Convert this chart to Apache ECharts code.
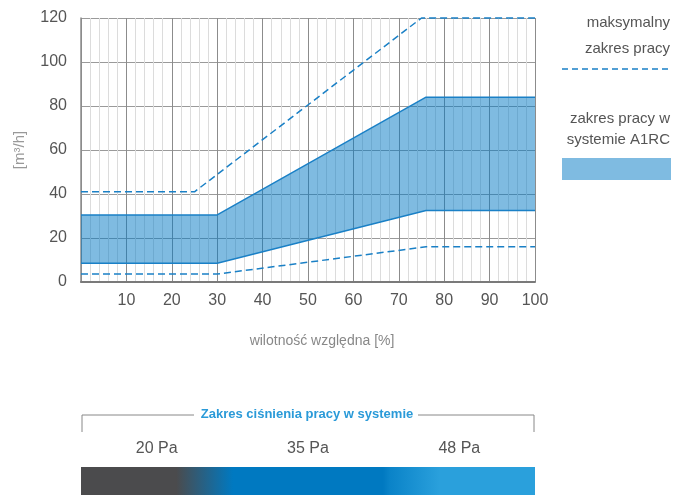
<!DOCTYPE html>
<html>
<head>
<meta charset="utf-8">
<script src="https://cdn.jsdelivr.net/npm/echarts@6/dist/echarts.min.js"></script>
<style>
  html, body { margin: 0; padding: 0; background: #fff; }
  #chart { width: 674px; height: 495px; }
</style>
</head>
<body>
<div id="chart"></div>
<script>
// ── data ─────────────────────────────────────────────────
const bandX     = [0, 30, 76, 100]
const bandLow   = [8.5, 8.5, 32.5, 32.5]
const bandHigh  = [30.5, 30.5, 84, 84]

const maxUpX    = [0, 25, 75, 100]
const maxUp     = [41, 41, 120, 120]
const maxLowX   = [0, 30, 76, 100]
const maxLow    = [3.6, 3.6, 16, 16]

const pressureLabels = ['20 Pa', '35 Pa', '48 Pa']

const legendMax  = ['maksymalny', 'zakres pracy']
const legendBand = ['zakres pracy w', 'systemie A1RC']

// ── style ────────────────────────────────────────────────
const FONT      = '"Liberation Sans", Arial, sans-serif'
const BLUE_LINE = '#1a80c6'
const BAND_FILL = 'rgba(0,120,195,0.5)'
const TEXT      = '#555'

const G = { left: 81, right: 535, top: 18, bottom: 282 }

const pts = (xs, ys) => xs.map((x, i) => [x, ys[i]])

const chart = echarts.init(document.getElementById('chart'))

// band polygon: lower edge left→right, upper edge right→left
function renderBand(params, api) {
  const ring = [
    ...bandX.map((x, i) => api.coord([x, bandLow[i]])),
    ...bandX.map((x, i) => api.coord([x, bandHigh[i]])).reverse(),
  ]
  return { type: 'polygon', shape: { points: ring }, style: { fill: BAND_FILL }, silent: true }
}

function legendGraphics() {
  const els = []
  legendMax.forEach((t, i) => els.push({
    type: 'text', x: 670, y: 23 + i * 26,
    style: { text: t, align: 'right', verticalAlign: 'middle', fill: TEXT, font: '15px ' + FONT },
  }))
  els.push({
    type: 'line', shape: { x1: 562, y1: 69, x2: 671, y2: 69 },
    style: { stroke: BLUE_LINE, lineWidth: 1.5, lineDash: [6, 4] },
  })
  legendBand.forEach((t, i) => els.push({
    type: 'text', x: 670, y: 119 + i * 21,
    style: { text: t, align: 'right', verticalAlign: 'middle', fill: TEXT, font: '15px ' + FONT },
  }))
  els.push({
    type: 'rect', shape: { x: 562, y: 158, width: 109, height: 22 },
    style: { fill: BAND_FILL },
  })
  return els
}

function pressureGraphics() {
  const w = G.right - G.left
  const els = [
    { type: 'polyline', shape: { points: [[G.left + 1, 432], [G.left + 1, 415], [194, 415]] },
      style: { stroke: '#888', lineWidth: 1, fill: null } },
    { type: 'polyline', shape: { points: [[418, 415], [G.right - 1, 415], [G.right - 1, 432]] },
      style: { stroke: '#888', lineWidth: 1, fill: null } },
    { type: 'text', x: 307, y: 414,
      style: { text: 'Zakres ciśnienia pracy w systemie', align: 'center', verticalAlign: 'middle',
        fill: '#2a9ad8', font: 'bold 13px ' + FONT } },
    { type: 'rect', shape: { x: G.left, y: 467, width: w, height: 28 },
      style: {
        fill: new echarts.graphic.LinearGradient(0, 0, 1, 0, [
          { offset: 0,     color: '#4b4b4d' },
          { offset: 0.21,  color: '#4b4b4d' },
          { offset: 0.335, color: '#0079c1' },
          { offset: 0.665, color: '#0079c1' },
          { offset: 0.68,  color: '#0a83c8' },
          { offset: 0.79,  color: '#2aa0dc' },
          { offset: 1,     color: '#2aa0dc' },
        ]),
      } },
  ]
  pressureLabels.forEach((t, i) => els.push({
    type: 'text', x: G.left + w * (2 * i + 1) / 6, y: 449,
    style: { text: t, align: 'center', verticalAlign: 'middle', fill: TEXT, font: '16px ' + FONT },
  }))
  return els
}

chart.setOption({
  animation: false,
  grid: { left: G.left, right: 674 - G.right, top: G.top, bottom: 495 - G.bottom },
  xAxis: {
    type: 'value', min: 0, max: 100, interval: 10,
    name: 'wilotność względna [%]', nameLocation: 'middle', nameGap: 52,
    nameTextStyle: { color: '#888', fontSize: 14, fontFamily: FONT, padding: [0, 0, 0, 28] },
    axisLine: { show: true, lineStyle: { color: '#7a7a7a', width: 2 } },
    axisTick: { show: false },
    axisLabel: { color: TEXT, fontSize: 16, fontFamily: FONT, margin: 11,
      formatter: v => (v === 0 ? '' : String(v)) },
    splitLine: { show: true, lineStyle: { color: '#8c8c8c', width: 1 } },
    minorTick: { show: false, splitNumber: 5 },
    minorSplitLine: { show: true, lineStyle: { color: '#dcdcdc', width: 1 } },
  },
  yAxis: {
    type: 'value', min: 0, max: 120, interval: 20,
    name: '[m³/h]', nameLocation: 'middle', nameGap: 54, nameRotate: 90,
    nameTextStyle: { color: '#999', fontSize: 15, fontFamily: FONT },
    axisLine: { show: true, lineStyle: { color: '#8c8c8c', width: 1.5 } },
    axisTick: { show: false },
    axisLabel: { color: TEXT, fontSize: 16, fontFamily: FONT, margin: 14 },
    splitLine: { show: true, lineStyle: { color: '#9a9a9a', width: 1 } },
  },
  series: [
    { type: 'custom', renderItem: renderBand, data: [0], z: 1 },
    { type: 'line', data: pts(bandX, bandLow), symbol: 'none', z: 2,
      lineStyle: { color: BLUE_LINE, width: 1.5 } },
    { type: 'line', data: pts(bandX, bandHigh), symbol: 'none', z: 2,
      lineStyle: { color: BLUE_LINE, width: 1.5 } },
    { type: 'line', data: pts(maxUpX, maxUp), symbol: 'none', clip: false, z: 2,
      lineStyle: { color: BLUE_LINE, width: 1.5, type: [7, 4] } },
    { type: 'line', data: pts(maxLowX, maxLow), symbol: 'none', z: 2,
      lineStyle: { color: BLUE_LINE, width: 1.5, type: [7, 4] } },
  ],
  graphic: [...legendGraphics(), ...pressureGraphics()],
})
</script>
</body>
</html>
